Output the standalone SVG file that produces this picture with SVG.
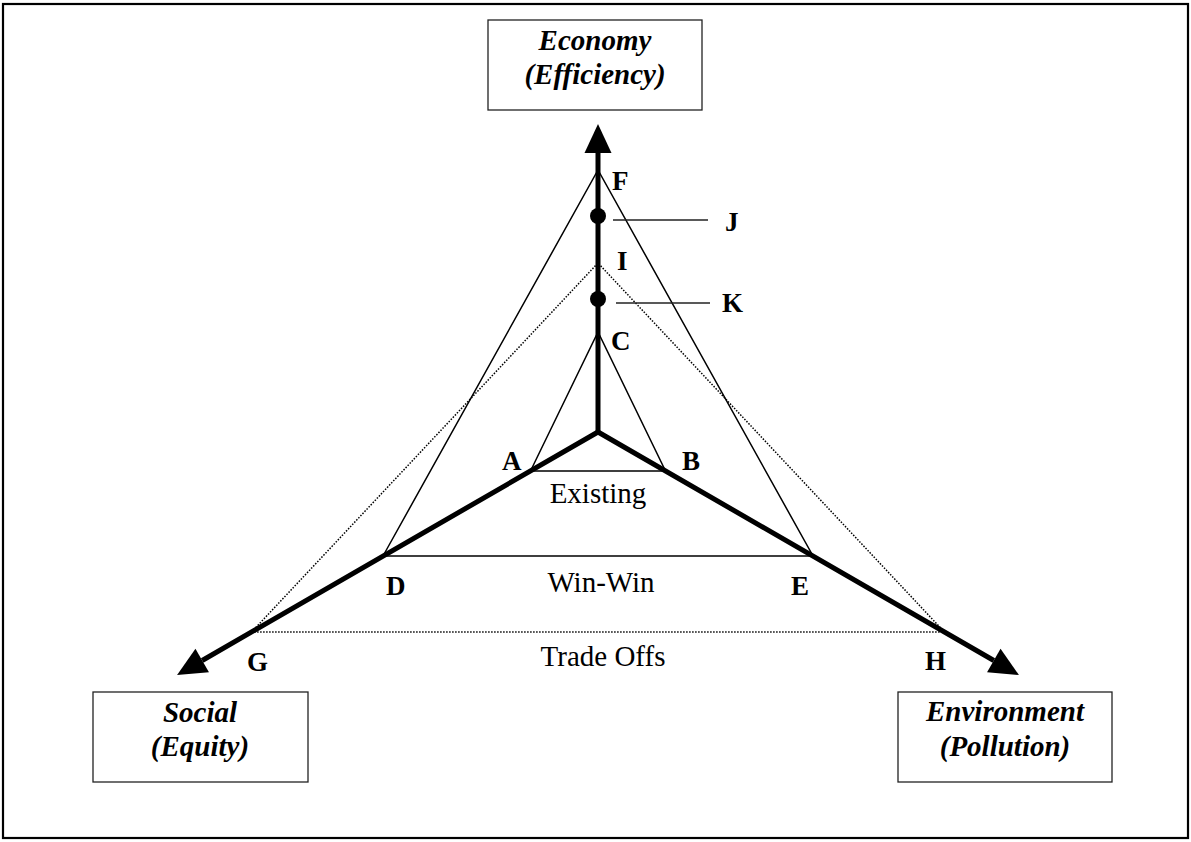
<svg xmlns="http://www.w3.org/2000/svg" width="1191" height="842" viewBox="0 0 1191 842">
  <style>
    .frame { fill: none; stroke: #000; stroke-width: 2.2; }
    .box { fill: #fff; stroke: #222; stroke-width: 1.3; }
    .boxtext { font-family: "Liberation Serif", "Times New Roman", serif; font-size: 29px; font-weight: bold; font-style: italic; text-anchor: middle; fill: #000; }
    .axis { fill: none; stroke: #000; stroke-width: 5; stroke-linejoin: miter; stroke-miterlimit: 10; }
    .thin { fill: none; stroke: #000; stroke-width: 1.5; }
    .dotted { fill: none; stroke: #000; stroke-width: 1.5; stroke-dasharray: 1.5 1.5; }
    .lead { fill: none; stroke: #222; stroke-width: 1.5; }
    .pt { font-family: "Liberation Serif", "Times New Roman", serif; font-size: 27px; font-weight: bold; fill: #000; }
    .zone { font-family: "Liberation Serif", "Times New Roman", serif; font-size: 29px; text-anchor: middle; fill: #000; }
  </style>
  <defs>
    <marker id="head" markerUnits="userSpaceOnUse" markerWidth="32" markerHeight="30" viewBox="0 -15 30 30" refX="0" refY="0" orient="auto-start-reverse">
      <path d="M0,-13.5 L29,0 L0,13.5 Z" fill="#000"/>
    </marker>
  </defs>

  <rect width="1191" height="842" fill="#fff"/>
  <rect class="frame" x="3" y="4" width="1185" height="834"/>

  <!-- pillar boxes -->
  <g id="economy">
    <rect class="box" x="488" y="20" width="214" height="90"/>
    <text class="boxtext" x="595" y="50">Economy</text>
    <text class="boxtext" x="595" y="84">(Efficiency)</text>
  </g>
  <g id="social">
    <rect class="box" x="93" y="692" width="215" height="90"/>
    <text class="boxtext" x="200" y="722">Social</text>
    <text class="boxtext" x="200" y="756">(Equity)</text>
  </g>
  <g id="environment">
    <rect class="box" x="898" y="692" width="214" height="90"/>
    <text class="boxtext" x="1005" y="721">Environment</text>
    <text class="boxtext" x="1005" y="756">(Pollution)</text>
  </g>

  <!-- triangles and axes -->
  <g id="connectors">
    <!-- existing: A-B-C -->
    <path class="thin" d="M530.5,471 L598,332 L665.5,471 Z"/>
    <!-- win-win: D-E-F -->
    <path class="thin" d="M383,556 L598,170 L813,556 Z"/>
    <!-- trade offs: G-H-I -->
    <path class="dotted" d="M251.6,632 L598,263 L944.4,632 Z"/>

    <!-- three axes from the common origin -->
    <polyline class="axis" points="202.2,660.5 598,432 993.8,660.5" marker-start="url(#head)" marker-end="url(#head)"/>
    <line class="axis" x1="598" y1="432" x2="598" y2="153" marker-end="url(#head)"/>

    <!-- optimum points on the economy axis -->
    <circle cx="598" cy="216" r="8" fill="#000"/>
    <circle cx="598" cy="299" r="8" fill="#000"/>
    <line class="lead" x1="613" y1="220" x2="708" y2="220"/>
    <line class="lead" x1="616" y1="303" x2="710" y2="303"/>
  </g>

  <!-- point labels -->
  <g id="labels">
    <text class="pt" x="612" y="190">F</text>
    <text class="pt" x="725" y="231">J</text>
    <text class="pt" x="617" y="270">I</text>
    <text class="pt" x="722" y="312">K</text>
    <text class="pt" x="611" y="350">C</text>
    <text class="pt" x="502" y="470">A</text>
    <text class="pt" x="682" y="470">B</text>
    <text class="pt" x="386" y="595">D</text>
    <text class="pt" x="791" y="595">E</text>
    <text class="pt" x="247" y="671">G</text>
    <text class="pt" x="925" y="670">H</text>
  </g>

  <!-- zone names -->
  <g id="zones">
    <text class="zone" x="598" y="503">Existing</text>
    <text class="zone" x="601" y="592">Win-Win</text>
    <text class="zone" x="603" y="666">Trade Offs</text>
  </g>
</svg>
